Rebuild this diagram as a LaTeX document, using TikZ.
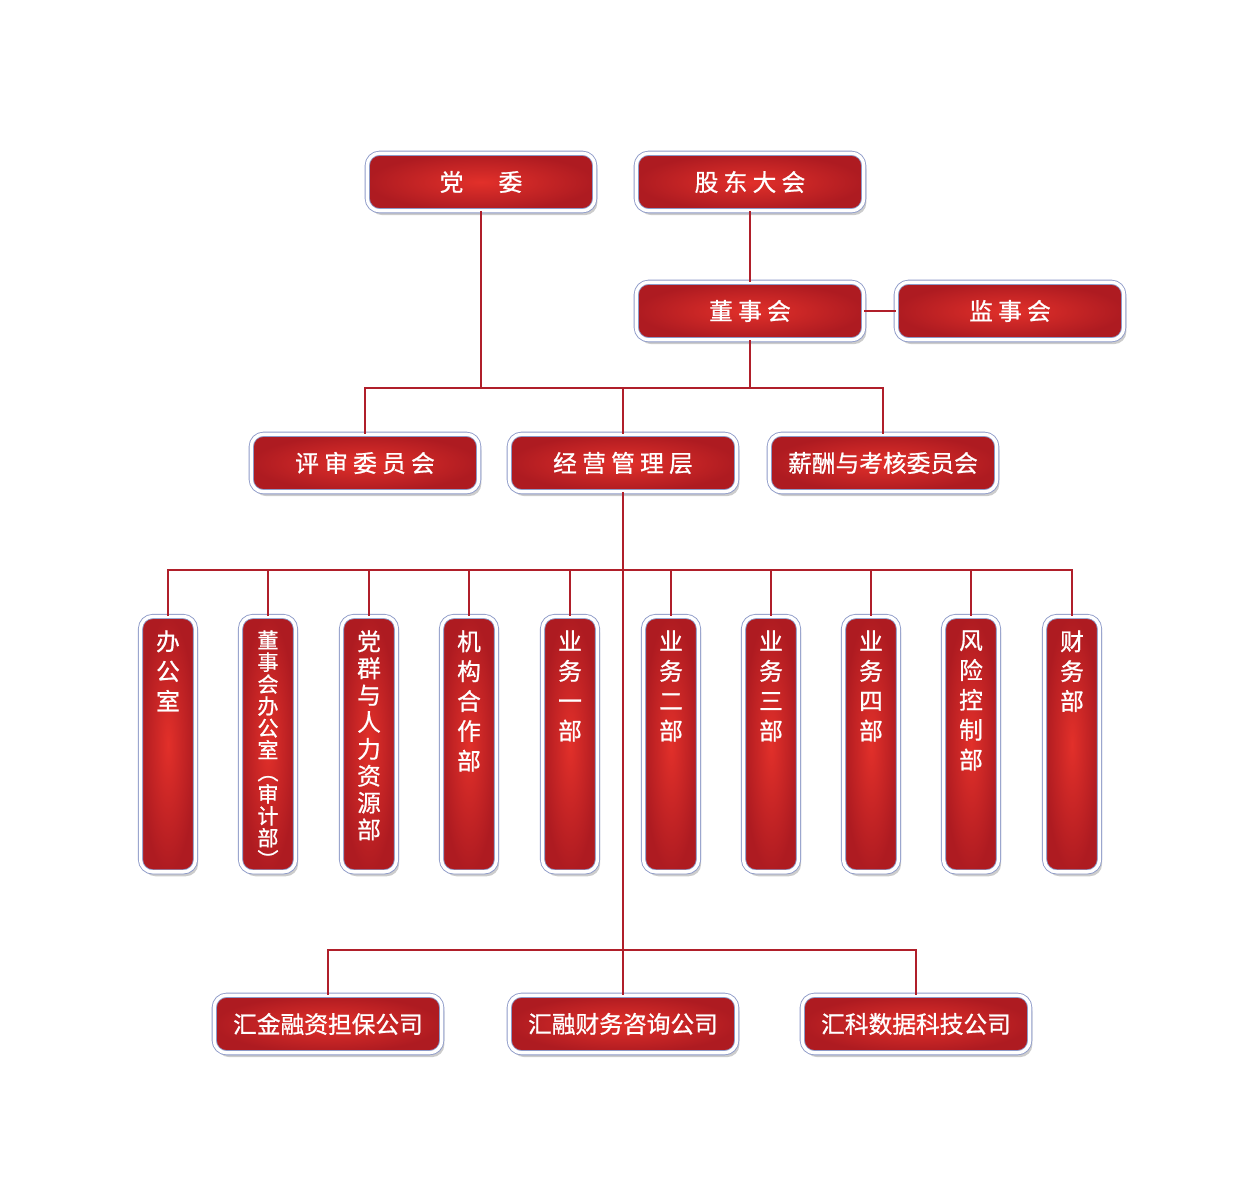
\documentclass[tikz,border=0pt]{standalone}
\usepackage{fontspec}
\setmainfont{Noto Sans CJK SC}
\newfontfamily\boxfont{Noto Sans CJK SC}[UprightFeatures={FakeBold=0.8}]
\usetikzlibrary{shadows,positioning}
\definecolor{boxlight}{HTML}{E2302A}
\definecolor{boxdark}{HTML}{AE1B21}
\definecolor{rim}{HTML}{8D9AC8}
\definecolor{wire}{HTML}{B01F2A}
\newcommand{\ls}{\hspace{3pt}}
\tikzset{
  box/.style={rectangle, rounded corners=7pt, inner color=boxlight, outer color=boxdark,
    draw=rim, double=white, double distance=1.9pt, line width=0.5pt,
    drop shadow={shadow xshift=1.5pt, shadow yshift=-2.5pt, opacity=0.4},
    text=white, font=\boxfont\fontsize{13.5}{16}\selectfont},
  hbox/.style={box, minimum width=4.55cm, minimum height=1.15cm, inner sep=0pt},
  vbox/.style={box, anchor=north, inner xsep=0pt, inner ysep=0.08cm},
  link/.style={draw=wire, line width=1.6pt},
}
\begin{document}
\begin{tikzpicture}[x=0.02cm,y=-0.02cm]
\useasboundingbox (0,0) rectangle (1241,1195);
% top levels
\node[hbox] (dw) at (481,182) {党\hspace{20pt}委};
\node[hbox] (gd) at (750,182) {股\ls 东\ls 大\ls 会};
\node[hbox] (dsh) at (750,311) {董\ls 事\ls 会};
\node[hbox] (jsh) at (1010,311) {监\ls 事\ls 会};
\node[hbox] (ps) at (365,463) {评\ls 审\ls 委\ls 员\ls 会};
\node[hbox] (jy) at (623,463) {经\ls 营\ls 管\ls 理\ls 层};
\node[hbox] (xc) at (883,463) {薪酬与考核委员会};
% departments
\foreach \x/\t/\f/\s [count=\i] in {
  168/{办\\公\\室}/13.5/17,
  268/{董\\事\\会\\办\\公\\室\\︵\\审\\计\\部\\︶}/12/12.5,
  369/{党\\群\\与\\人\\力\\资\\源\\部}/13.5/15.3,
  469/{机\\构\\合\\作\\部}/13.5/17,
  570/{业\\务\\一\\部}/13.5/17,
  671/{业\\务\\二\\部}/13.5/17,
  771/{业\\务\\三\\部}/13.5/17,
  871/{业\\务\\四\\部}/13.5/17,
  971/{风\\险\\控\\制\\部}/13.5/17,
  1072/{财\\务\\部}/13.5/17}
  \node[vbox] (d\i) at (\x,616)
    {\parbox[t][4.95cm][t]{1.1cm}{\centering\fontsize{\f}{\s}\selectfont\vspace*{0.2cm}\t}};
% companies
\node[hbox] (c1) at (328,1024) {汇金融资担保公司};
\node[hbox] (c2) at (623,1024) {汇融财务咨询公司};
\node[hbox] (c3) at (916,1024) {汇科数据科技公司};
\coordinate (hub) at (623,388);
\coordinate (bar) at (623,570);
\coordinate (fork) at (623,950);
% connectors
\draw[link] (gd) -- (dsh);
\draw[link] (dsh) -- (jsh);
\draw[link] (dw.south) -- (dw.south |- hub);
\draw[link] (dsh.south) -- (dsh.south |- hub);
\draw[link] (ps.north) -- (ps.north |- hub) -- (xc.north |- hub) -- (xc.north);
\draw[link] (jy.north) -- (hub);
\draw[link] (jy.south) -- (fork);
\draw[link] (d1.north) -- (d1.north |- bar) -- (d10.north |- bar) -- (d10.north);
\foreach \i in {2,...,9}
  \draw[link] (d\i.north) -- (d\i.north |- bar);
\draw[link] (c1.north) -- (c1.north |- fork) -- (c3.north |- fork) -- (c3.north);
\draw[link] (c2.north) -- (fork);
\end{tikzpicture}
\end{document}
